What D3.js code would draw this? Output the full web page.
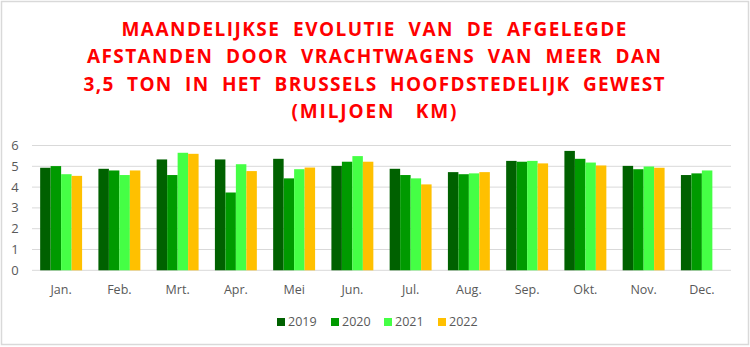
<!DOCTYPE html>
<html>
<head>
<meta charset="utf-8">
<script src="https://cdn.jsdelivr.net/npm/d3@7"></script>
<style>
  body { margin: 0; background: #fff; }
  svg text { font-family: "Open Sans", sans-serif; }
</style>
</head>
<body>
<div id="chart"></div>
<script>
var months = ["Jan.", "Feb.", "Mrt.", "Apr.", "Mei", "Jun.", "Jul.", "Aug.", "Sep.", "Okt.", "Nov.", "Dec."];
var years = ["2019", "2020", "2021", "2022"];
var colors = ["#006100", "#009a00", "#45ff45", "#ffc000"];

var v2019 = [4.93, 4.88, 5.33, 5.33, 5.36, 5.02, 4.88, 4.72, 5.26, 5.74, 5.02, 4.58];
var v2020 = [5.01, 4.80, 4.58, 3.74, 4.42, 5.22, 4.58, 4.62, 5.22, 5.36, 4.86, 4.66];
var v2021 = [4.62, 4.58, 5.65, 5.10, 4.86, 5.49, 4.42, 4.66, 5.26, 5.18, 4.99, 4.80];
var v2022 = [4.54, 4.80, 5.60, 4.77, 4.94, 5.22, 4.13, 4.72, 5.14, 5.04, 4.93, null];
var series = [v2019, v2020, v2021, v2022];

var yTicks = [0, 1, 2, 3, 4, 5, 6];
var titleLines = [
    "MAANDELIJKSE  EVOLUTIE  VAN  DE  AFGELEGDE",
    "AFSTANDEN  DOOR  VRACHTWAGENS  VAN  MEER  DAN",
    "3,5  TON  IN  HET  BRUSSELS  HOOFDSTEDELIJK  GEWEST",
    "(MILJOEN   KM)"
];
var titleWidths = [505, 574, 581, 165];

var width = 750, height = 347;

var svg = d3.select('#chart')
    .append('svg')
        .attr('width', width)
        .attr('height', height);

// kader
svg.append('rect')
    .attr('x', 1.5).attr('y', 1.5)
    .attr('width', width - 3).attr('height', height - 4)
    .attr('fill', '#fff')
    .attr('stroke', '#d9d9d9')
    .attr('stroke-width', 1.5);

// titel
svg.selectAll('.titel')
    .data(titleLines)
    .enter()
    .append('text')
        .attr('class', 'titel')
        .attr('x', 374)
        .attr('y', function (d, i) { return 36 + i * 27.3; })
        .attr('text-anchor', 'middle')
        .attr('textLength', function (d, i) { return titleWidths[i]; })
        .attr('lengthAdjust', 'spacing')
        .attr('font-size', '19px')
        .attr('font-weight', 'bold')
        .attr('fill', '#ff0000')
        .style('white-space', 'pre')
        .text(d => d);

var x = d3.scaleBand()
    .domain(months)
    .range([32, 731])
    .paddingInner(0.28)
    .paddingOuter(0.14);

var xYear = d3.scaleBand()
    .domain(years)
    .range([0, x.bandwidth()]);

var y = d3.scaleLinear()
    .domain([0, 6])
    .range([270.3, 145.5]);

// rasterlijnen
svg.append('g')
    .selectAll('line')
    .data(yTicks)
    .enter()
    .append('line')
        .attr('x1', 32).attr('x2', 731)
        .attr('y1', d => y(d)).attr('y2', d => y(d))
        .attr('stroke', '#d9d9d9')
        .attr('stroke-width', 1);

svg.append('g')
    .selectAll('text')
    .data(yTicks)
    .enter()
    .append('text')
        .attr('x', 15)
        .attr('y', d => y(d))
        .attr('dy', '0.35em')
        .attr('text-anchor', 'middle')
        .attr('font-size', '13px')
        .attr('fill', '#595959')
        .text(d => d);

// staven
var groep = svg.append('g')
    .selectAll('g')
    .data(months)
    .enter()
    .append('g')
    .attr('transform', d => 'translate(' + x(d) + ',0)');

groep.selectAll('rect')
    .data(function (d, i) {
        return years.map(function (yr, j) { return { year: yr, j: j, value: series[j][i] }; })
            .filter(e => e.value != null);
    })
    .enter()
    .append('rect')
        .attr('x', d => xYear(d.year))
        .attr('y', d => y(d.value))
        .attr('width', xYear.bandwidth())
        .attr('height', d => y(0) - y(d.value))
        .attr('fill', d => colors[d.j]);

// maandlabels
svg.append('g')
    .selectAll('text')
    .data(months)
    .enter()
    .append('text')
        .attr('x', d => x(d) + x.bandwidth() / 2)
        .attr('y', 294)
        .attr('text-anchor', 'middle')
        .attr('font-size', '12.5px')
        .attr('fill', '#595959')
        .text(d => d);

// legende
var legX = [277, 331, 384, 438];
var leg = svg.append('g')
    .selectAll('g')
    .data(years)
    .enter()
    .append('g')
    .attr('transform', (d, i) => 'translate(' + legX[i] + ',318)');

leg.append('rect')
    .attr('width', 8).attr('height', 8)
    .attr('fill', (d, i) => colors[i]);

leg.append('text')
    .attr('x', 11)
    .attr('y', 4)
    .attr('dy', '0.35em')
    .attr('font-size', '12.5px')
    .attr('fill', '#595959')
    .text(d => d);
</script>
</body>
</html>
